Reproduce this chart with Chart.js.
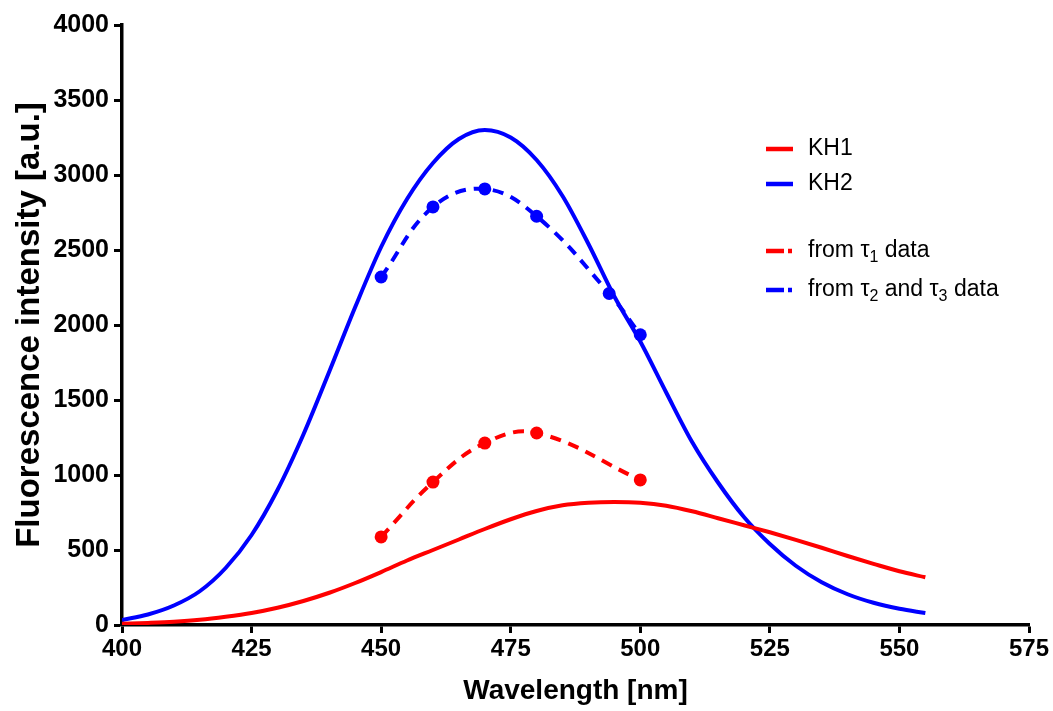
<!DOCTYPE html>
<html><head><meta charset="utf-8">
<script src="https://cdn.jsdelivr.net/npm/chart.js@4/dist/chart.umd.min.js"></script>
<style>html,body{margin:0;padding:0;background:#fff;} #wrap{width:1053px;height:711px;position:relative;}</style>
</head><body><div id="wrap"><canvas id="c" width="1053" height="711"></canvas></div>
<script>
// ---- data ----
const wavelengths = [400,405,410,415,420,425,430,435,440,445,450,455,460,465,470,475,480,485,490,495,500,505,510,515,520,525,530,535,540,545,550,555];
const kh1 = [8,14,22,35,55,80,115,160,215,280,353,430,500,570,640,705,760,798,815,820,815,795,758,712,665,618,568,515,460,408,358,318];
const kh2 = [33,70,130,225,380,600,900,1270,1690,2120,2520,2840,3080,3240,3300,3250,3100,2860,2540,2190,1890,1550,1220,950,720,540,395,285,205,148,108,80];
const tau1X = [450,460,470,480,500];
const tau1Y = [587,953,1213,1280,967];
const tau23X = [450,460,470,480,494,500];
const tau23Y = [2320,2787,2907,2725,2210,1935];
const xTicks = [400,425,450,475,500,525,550,575];
const yTicks = [0,500,1000,1500,2000,2500,3000,3500,4000];
const seriesNames = ['KH1','KH2'];
const fitNames = [[['from \u03C4',false],['1',true],[' data',false]], [['from \u03C4',false],['2',true],[' and \u03C4',false],['3',true],[' data',false]]];
const xTitle = 'Wavelength [nm]';
const yTitle = 'Fluorescence intensity [a.u.]';

const RED = '#ff0000', BLUE = '#0000ff';
const FONT = '"Liberation Sans", Arial, sans-serif';
const pts = (xs, ys) => xs.map((x, i) => ({x: x, y: ys[i]}));

const legendPlugin = {
  id: 'customLegend',
  afterDraw(chart) {
    const ctx = chart.ctx;
    ctx.save();
    const x0 = 766, x1 = 793, tx = 808;
    const rows = [
      {y: 149, color: RED, dash: false, parts: [[seriesNames[0], false]]},
      {y: 184, color: BLUE, dash: false, parts: [[seriesNames[1], false]]},
      {y: 251, color: RED, dash: true, parts: fitNames[0]},
      {y: 290, color: BLUE, dash: true, parts: fitNames[1]}
    ];
    rows.forEach(r => {
      ctx.strokeStyle = r.color; ctx.lineWidth = 4.5; ctx.lineCap = 'butt';
      ctx.beginPath();
      if (r.dash) { ctx.moveTo(x0, r.y); ctx.lineTo(x0 + 18, r.y); ctx.moveTo(x1 - 5, r.y); ctx.lineTo(x1 - 1, r.y); }
      else { ctx.moveTo(x0, r.y); ctx.lineTo(x1, r.y); }
      ctx.stroke();
      let x = tx;
      ctx.fillStyle = '#000'; ctx.textBaseline = 'middle'; ctx.textAlign = 'left';
      r.parts.forEach(p => {
        if (p[1]) { ctx.font = '16px ' + FONT; ctx.fillText(p[0], x, r.y + 7); }
        else { ctx.font = '23px ' + FONT; ctx.fillText(p[0], x, r.y); }
        x += ctx.measureText(p[0]).width;
      });
    });
    ctx.restore();
  }
};

new Chart(document.getElementById('c'), {
  type: 'line',
  data: {
    datasets: [
      {label: seriesNames[0], data: pts(wavelengths, kh1), borderColor: RED, borderWidth: 4, pointRadius: 0, cubicInterpolationMode: 'monotone', fill: false},
      {label: seriesNames[1], data: pts(wavelengths, kh2), borderColor: BLUE, borderWidth: 4, pointRadius: 0, cubicInterpolationMode: 'monotone', fill: false},
      {label: 'tau1', data: pts(tau1X, tau1Y), borderColor: RED, backgroundColor: RED, borderWidth: 4, borderDash: [11, 8], pointRadius: 6.5, pointBorderWidth: 0, pointBackgroundColor: RED, tension: 0.4, fill: false},
      {label: 'tau23', data: pts(tau23X, tau23Y), borderColor: BLUE, backgroundColor: BLUE, borderWidth: 4, borderDash: [11, 8], pointRadius: 6.5, pointBorderWidth: 0, pointBackgroundColor: BLUE, tension: 0.4, fill: false}
    ]
  },
  options: {
    responsive: false, devicePixelRatio: 1, animation: false,
    layout: {padding: {top: 25, right: 24, left: 0, bottom: 0}},
    plugins: {legend: {display: false}, tooltip: {enabled: false}},
    scales: {
      x: {
        type: 'linear', min: 400, max: 575,
        afterBuildTicks: s => { s.ticks = xTicks.map(v => ({value: v})); },
        afterFit: s => { s.height = 86; },
        border: {display: true, color: '#000', width: 3.5},
        grid: {drawOnChartArea: false, drawTicks: true, tickLength: 8, tickColor: '#000', tickWidth: 3},
        ticks: {color: '#000', font: {family: FONT, size: 24, weight: 'bold'}, padding: 2, maxRotation: 0, callback: v => String(v)},
        title: {display: true, text: xTitle, color: '#000', font: {family: FONT, size: 28, weight: 'bold'}, padding: {top: 0, bottom: 3}}
      },
      y: {
        type: 'linear', min: 0, max: 4000,
        afterBuildTicks: s => { s.ticks = yTicks.map(v => ({value: v})); },
        afterFit: s => { s.width = 122; },
        border: {display: true, color: '#000', width: 3.5},
        grid: {drawOnChartArea: false, drawTicks: true, tickLength: 8, tickColor: '#000', tickWidth: 3},
        ticks: {color: '#000', font: {family: FONT, size: 25, weight: 'bold'}, padding: 5, callback: v => String(v)},
        title: {display: true, text: yTitle, color: '#000', font: {family: FONT, size: 33, weight: 'bold'}, padding: {top: 10, bottom: 0}}
      }
    }
  },
  plugins: [legendPlugin]
});
</script></body></html>
